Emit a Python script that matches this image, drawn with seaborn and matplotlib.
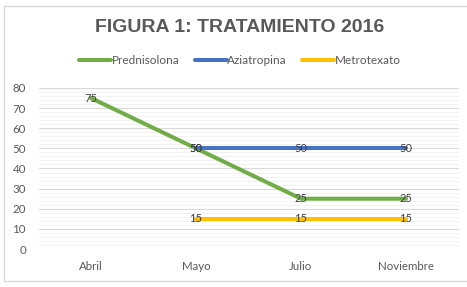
import matplotlib
matplotlib.use("Agg")
import matplotlib.pyplot as plt
import matplotlib.ticker as ticker
from matplotlib.patches import Rectangle
import pandas as pd
import seaborn as sns

MONTHS = ["Abril", "Mayo", "Julio", "Noviembre"]
PREDNISOLONA = [75, 50, 25, 25]
AZIATROPINA = [None, 50, 50, 50]
METROTEXATO = [None, 15, 15, 15]

SERIES = {
    "Prednisolona": PREDNISOLONA,
    "Aziatropina": AZIATROPINA,
    "Metrotexato": METROTEXATO,
}
PALETTE = {
    "Prednisolona": "#70AD47",
    "Aziatropina": "#4472C4",
    "Metrotexato": "#FFC000",
}

rows = []
for name, vals in SERIES.items():
    for m, v in zip(MONTHS, vals):
        rows.append({"mes": m, "serie": name, "valor": v})
df = pd.DataFrame(rows).dropna()
df["pos"] = df["mes"].map({m: i for i, m in enumerate(MONTHS)})

sns.set_style("white")
plt.rcParams["font.family"] = ["Lato", "DejaVu Sans"]

fig = plt.figure(figsize=(4.67, 2.87), dpi=100)
fig.patch.set_facecolor("white")
ax = fig.add_axes([38.5 / 467, 38 / 287, 420 / 467, 161 / 287])

# chart border
fig.patches.append(Rectangle((4 / 467, 6 / 287), 470 / 467, 275 / 287,
                             transform=fig.transFigure, fill=False,
                             edgecolor="#d9d9d9", linewidth=1.0))

sns.lineplot(data=df, x="pos", y="valor", hue="serie", palette=PALETTE,
             hue_order=list(SERIES), linewidth=2.9, ax=ax, zorder=5,
             legend=True)

for name in SERIES:
    sub = df[df["serie"] == name]
    for x, y in zip(sub["pos"], sub["valor"]):
        ax.text(x, y, f"{int(y)}", ha="center", va="center", fontsize=8,
                color="#404040", zorder=10)

ax.set_xlim(-0.5, len(MONTHS) - 0.5)
ax.set_ylim(0, 80)
ax.set_xticks(range(len(MONTHS)))
ax.set_xticklabels(MONTHS)
ax.yaxis.set_major_locator(ticker.MultipleLocator(10))
ax.yaxis.set_minor_locator(ticker.MultipleLocator(2))
ax.grid(axis="y", which="major", color="#d9d9d9", linewidth=0.8, zorder=0)
ax.grid(axis="y", which="minor", color="#f0f0f0", linewidth=0.6, zorder=0)
ax.set_axisbelow(True)
for s in ax.spines.values():
    s.set_visible(False)
ax.tick_params(axis="both", which="both", length=0, labelsize=8.3,
               colors="#595959")
ax.tick_params(axis="y", pad=9)
ax.tick_params(axis="x", pad=9)
ax.set_xlabel("")
ax.set_ylabel("")

handles, labels = ax.get_legend_handles_labels()
ax.get_legend().remove()
fig.legend(handles, labels, loc="center", bbox_to_anchor=(240 / 467, 1 - 61 / 287),
           ncol=3, frameon=False, fontsize=8.5, handlelength=2.7,
           handletextpad=0.05, columnspacing=1.3, labelcolor="#595959")

fig.text(240 / 467, 1 - 28 / 287, "FIGURA 1: TRATAMIENTO 2016", ha="center",
         va="center", fontsize=14, fontweight="bold", color="#595959",
         family=["Liberation Sans", "DejaVu Sans"])

fig.savefig("out.png", dpi=100)
